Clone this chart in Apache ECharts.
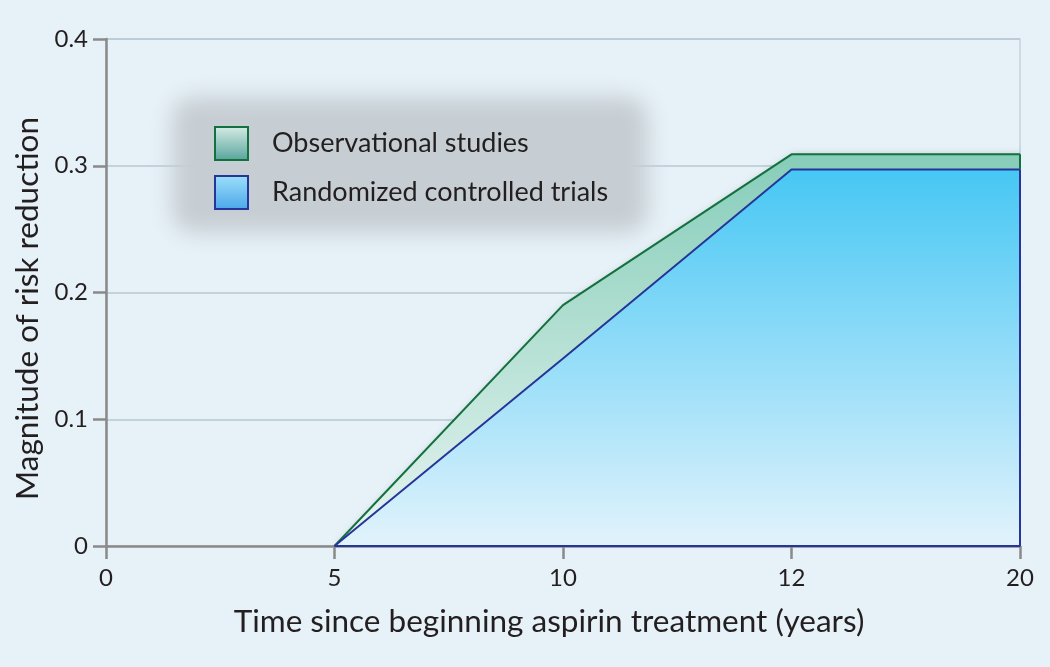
<!DOCTYPE html>
<html>
<head>
<meta charset="utf-8">
<script src="https://cdn.jsdelivr.net/npm/echarts@6/dist/echarts.min.js"></script>
<style>
html,body{margin:0;padding:0;background:#e7f1f8;}
#chart{width:1050px;height:667px;}
</style>
</head>
<body>
<div id="chart"></div>
<script>
var categories = ['0', '5', '10', '12', '20'];
var observational = [null, 0, 0.19, 0.309, 0.309];
var randomized = [null, 0, 0.148, 0.297, 0.297];
var yTicks = [0, 0.1, 0.2, 0.3, 0.4];
var seriesNames = ['Observational studies', 'Randomized controlled trials'];
var xTitle = 'Time since beginning aspirin treatment (years)';
var yTitle = 'Magnitude of risk reduction';

var FONT = 'Lato';
var TXT = '#231f20';
var GREEN = '#13703f';
var BLUE = '#26359a';
var last = categories[categories.length - 1];
var start = categories[1];

function grad(top, bottom) {
  return new echarts.graphic.LinearGradient(0, 0, 0, 1, [
    {offset: 0, color: top}, {offset: 1, color: bottom}
  ]);
}

var chart = echarts.init(document.getElementById('chart'), null, {renderer: 'canvas'});
chart.setOption({
  backgroundColor: '#e7f1f8',
  animation: false,
  textStyle: {fontFamily: FONT, color: TXT},
  grid: {
    left: 106, right: 30, top: 39, bottom: 121,
    show: true, borderColor: '#c3d2dc', borderWidth: 1.5, backgroundColor: 'transparent'
  },
  graphic: [{
    type: 'rect', z: 1, silent: true,
    shape: {x: 172 - 3000, y: 97, width: 476, height: 136, r: 22},
    style: {fill: '#c6ced3', shadowBlur: 22, shadowColor: '#c6ced3', shadowOffsetX: 3000, shadowOffsetY: 0}
  }],
  legend: {
    orient: 'vertical', left: 209, top: 121, z: 10,
    itemWidth: 33, itemHeight: 33, itemGap: 14,
    icon: 'rect',
    textStyle: {fontFamily: FONT, fontSize: 27, lineHeight: 33, color: TXT, padding: [0, 0, 0, 19]},
    data: [
      {name: seriesNames[0], itemStyle: {color: grad('#d6ede5', '#56a39c'), borderColor: GREEN, borderWidth: 2}},
      {name: seriesNames[1], itemStyle: {color: grad('#9fe0fb', '#4aa6e9'), borderColor: BLUE, borderWidth: 2}}
    ]
  },
  xAxis: {
    type: 'category', data: categories, boundaryGap: false,
    name: xTitle, nameLocation: 'middle', nameGap: 60,
    nameTextStyle: {fontFamily: FONT, fontSize: 31.5, color: TXT, padding: [0, 28, 0, 0]},
    axisLine: {lineStyle: {color: '#8a8a8a', width: 2.5}},
    axisTick: {show: true, alignWithLabel: true, length: 13, lineStyle: {color: '#8a8a8a', width: 2.5}},
    axisLabel: {fontFamily: FONT, fontSize: 24, color: TXT, margin: 20},
    splitLine: {show: false}
  },
  yAxis: {
    type: 'value', min: yTicks[0], max: yTicks[yTicks.length - 1], interval: 0.1,
    name: yTitle, nameLocation: 'middle', nameGap: 58,
    nameTextStyle: {fontFamily: FONT, fontSize: 31.5, color: TXT, padding: [0, 32, 0, 0]},
    axisLine: {show: true, lineStyle: {color: '#8a8a8a', width: 2.5}},
    axisTick: {show: true, length: 13, lineStyle: {color: '#8a8a8a', width: 2.5}},
    axisLabel: {fontFamily: FONT, fontSize: 24, color: TXT, margin: 18,
      formatter: function (v) { return v === 0 ? '0' : v.toFixed(1); }},
    splitLine: {show: true, lineStyle: {color: '#b7c8d3', width: 1.5}}
  },
  series: [{
    name: seriesNames[0], type: 'line', data: observational, z: 3,
    symbol: 'none', connectNulls: false,
    lineStyle: {color: GREEN, width: 2},
    itemStyle: {color: '#6fbfae'},
    areaStyle: {opacity: 1, color: grad('#86cdb9', '#e8f5f1'), shadowBlur: 8, shadowColor: 'rgba(0,0,0,0.35)', shadowOffsetX: 3, shadowOffsetY: 2},
    markLine: {
      silent: true, symbol: 'none', label: {show: false},
      lineStyle: {color: GREEN, width: 2, type: 'solid'},
      data: [[{coord: [last, randomized[4]]}, {coord: [last, observational[4]]}]]
    }
  }, {
    name: seriesNames[1], type: 'line', data: randomized, z: 4,
    symbol: 'none', connectNulls: false,
    lineStyle: {color: BLUE, width: 2},
    itemStyle: {color: '#4cc4f2'},
    areaStyle: {opacity: 1, color: grad('#46c7f4', '#e2f3fc')},
    markLine: {
      silent: true, symbol: 'none', label: {show: false},
      lineStyle: {color: BLUE, width: 2, type: 'solid'},
      data: [
        [{coord: [last, 0]}, {coord: [last, randomized[4]]}],
        [{coord: [start, 0]}, {coord: [last, 0]}]
      ]
    }
  }]
});
</script>
</body>
</html>
